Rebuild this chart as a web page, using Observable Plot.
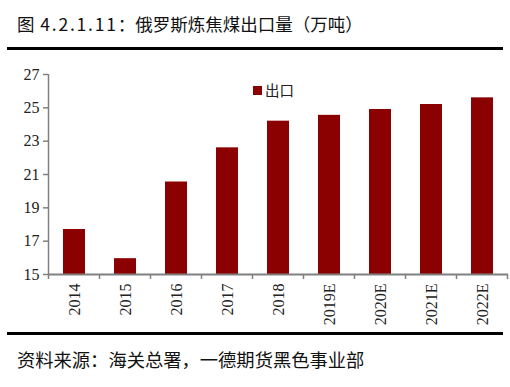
<!DOCTYPE html>
<html><head><meta charset="utf-8">
<script src="https://cdn.jsdelivr.net/npm/d3@7"></script>
<script src="https://cdn.jsdelivr.net/npm/@observablehq/plot@0.6"></script>
<style>
body{margin:0;background:#fff;}
#wrap{position:relative;width:510px;height:387px;overflow:hidden;font-family:"Noto Sans CJK SC","Noto Sans",sans-serif;background:#fff;}
#title{position:absolute;left:17px;top:13px;font-size:17.5px;color:#111;white-space:nowrap;line-height:22px;}
#title .num{letter-spacing:1.8px;}
.rule{position:absolute;left:7px;width:496px;height:3px;background:#000;}
#chart{position:absolute;left:0;top:55px;}
#legend{position:absolute;left:253px;top:81px;font-size:14.5px;color:#222;display:flex;align-items:center;line-height:18px;}
#legend span.sw{display:inline-block;width:9px;height:9px;background:#8b0000;margin-right:3px;}
#caption{position:absolute;left:17px;top:348px;font-size:18.3px;color:#111;white-space:nowrap;line-height:22px;}
</style>
</head><body>
<div id="wrap">
  <div id="title">图<span class="num"> 4.2.1.11</span>：俄罗斯炼焦煤出口量（万吨）</div>
  <div class="rule" style="top:47px"></div>
  <div id="chart"></div>
  <div id="legend"><span class="sw"></span><span>出口</span></div>
  <div class="rule" style="top:332px"></div>
  <div id="caption">资料来源：海关总署，一德期货黑色事业部</div>
</div>
<script>
const years = ["2014","2015","2016","2017","2018","2019E","2020E","2021E","2022E"];
const exportsVol = [17.7, 15.95, 20.55, 22.6, 24.2, 24.55, 24.9, 25.2, 25.6];
const yTicks = [15, 17, 19, 21, 23, 25, 27];
const yMin = 15, yMax = 27;
const data = years.map((year, i) => ({year, value: exportsVol[i]}));

const plot = Plot.plot({
  width: 510, height: 275,
  marginTop: 19, marginBottom: 56, marginLeft: 48, marginRight: 2,
  style: {fontFamily: "'Liberation Serif', serif", fontSize: "16px", color: "#222", background: "transparent"},
  x: {domain: years, paddingInner: 0.575, paddingOuter: 0.2875, label: null},
  y: {domain: [yMin, yMax], label: null},
  marks: [
    Plot.barY(data, {x: "year", y1: yMin, y2: "value", fill: "#8b0000"}),
    Plot.axisY({ticks: yTicks, tickSize: 5, tickPadding: 4, stroke: "#808080", strokeWidth: 1.5, label: null, fontSize: 16}),
    Plot.axisX({tickRotate: -90, tickSize: 0, tickPadding: 9, label: null, fontSize: 16}),
    Plot.ruleY([yMin], {stroke: "#808080", strokeWidth: 2})
  ]
});
document.getElementById("chart").appendChild(plot);

const xs = plot.scale("x"), ys = plot.scale("y");
const svg = d3.select(plot);
const step = xs.step, bw = xs.bandwidth;
const g = svg.append("g").attr("stroke", "#808080").attr("stroke-width", 1.5);
const y0 = ys.apply(yMin), y1 = ys.apply(yMax);
const left = xs.apply(years[0]) - (step - bw) / 2;
g.append("line").attr("x1", left).attr("x2", left).attr("y1", y0).attr("y2", y1);
years.forEach((yr, i) => {
  const b = xs.apply(yr) - (step - bw) / 2;
  g.append("line").attr("x1", b).attr("x2", b).attr("y1", y0).attr("y2", y0 + 5);
  if (i === years.length - 1) {
    g.append("line").attr("x1", b + step).attr("x2", b + step).attr("y1", y0).attr("y2", y0 + 5);
  }
});
</script>
</body></html>
